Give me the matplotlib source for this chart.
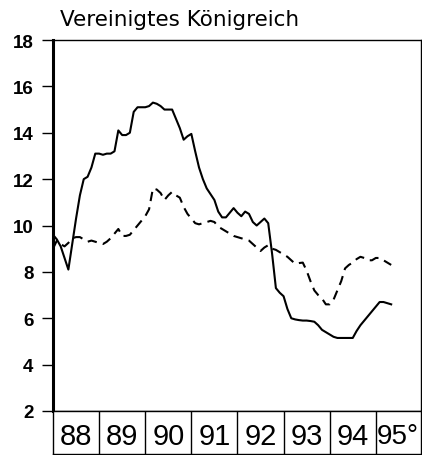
import matplotlib
matplotlib.use("Agg")
import matplotlib.pyplot as plt
import numpy as np

# monthly values, Jan 1988 .. May 1995
short_rate = [9.6, 9.4, 9.1, 8.6, 8.1, 9.2, 10.3, 11.3, 12.0, 12.1, 12.5, 13.1,
              13.1, 13.05, 13.1, 13.1, 13.2, 14.1, 13.9, 13.9, 14.0, 14.9, 15.1, 15.1,
              15.1, 15.15, 15.3, 15.25, 15.15, 15.0, 15.0, 15.0, 14.6, 14.2, 13.7, 13.85,
              13.95, 13.2, 12.5, 12.0, 11.6, 11.35, 11.1, 10.6, 10.35, 10.35, 10.55, 10.75,
              10.55, 10.4, 10.6, 10.5, 10.15, 10.0, 10.15, 10.3, 10.1, 8.8, 7.3, 7.1,
              6.95, 6.4, 6.0, 5.95, 5.92, 5.9, 5.9, 5.88, 5.85, 5.7, 5.5, 5.4,
              5.3, 5.2, 5.15, 5.15, 5.15, 5.15, 5.15, 5.45, 5.7, 5.9, 6.1, 6.3,
              6.5, 6.7, 6.7, 6.65, 6.6]
long_rate = [9.0, 9.35, 9.2, 9.1, 9.25, 9.45, 9.5, 9.5, 9.4, 9.3, 9.35, 9.3,
             9.25, 9.2, 9.3, 9.45, 9.65, 9.85, 9.55, 9.55, 9.6, 9.8, 10.0, 10.2,
             10.4, 10.7, 11.6, 11.55, 11.4, 11.1, 11.3, 11.45, 11.3, 11.2, 10.8, 10.5,
             10.3, 10.1, 10.05, 10.1, 10.15, 10.2, 10.15, 9.95, 9.85, 9.75, 9.65, 9.55,
             9.5, 9.45, 9.4, 9.35, 9.2, 9.05, 8.9, 9.05, 9.15, 9.0, 8.95, 8.85,
             8.75, 8.65, 8.5, 8.35, 8.38, 8.4, 8.05, 7.6, 7.2, 7.0, 6.85, 6.6,
             6.6, 6.8, 7.2, 7.6, 8.15, 8.3, 8.4, 8.55, 8.65, 8.6, 8.5, 8.5,
             8.6, 8.6, 8.5, 8.4, 8.3]
years = [1988, 1989, 1990, 1991, 1992, 1993, 1994, 1995]
year_labels = ["88", "89", "90", "91", "92", "93", "94", "95°"]
y_ticks = [2, 4, 6, 8, 10, 12, 14, 16, 18]

t = 1988 + np.arange(len(short_rate)) / 12.0
x_end = 1995.98

fig = plt.figure(figsize=(4.22, 4.56), dpi=100)
ax = fig.add_axes([53/422, 1 - 412/456, 368/422, 371/456])
ax.plot(t, short_rate, color="black", lw=1.5)
ax.plot(t, long_rate, color="black", lw=1.5, dashes=(4.5, 3))
ax.set_xlim(1988, x_end)
ax.set_ylim(2, 18)
ax.set_yticks(y_ticks)
ax.set_xticks([])
for lab in ax.set_yticklabels([str(v) for v in y_ticks]):
    lab.set_family(["Liberation Sans", "DejaVu Sans"])
    lab.set_fontweight("bold")
    lab.set_fontsize(13.5)
ax.tick_params(axis="y", length=8, width=1, pad=6)
ax.spines["left"].set_linewidth(2.2)
for s in ["top", "right", "bottom"]:
    ax.spines[s].set_linewidth(1)

fig.text(60/422, 1 - 20/456, "Vereinigtes Königreich",
         fontsize=15.5, ha="left", va="center", family="DejaVu Sans")

# year boxes under the plot
bx = fig.add_axes([53/422, 1 - 455/456, 368/422, 43/456])
bx.set_xlim(1988, x_end)
bx.set_ylim(0, 1)
bx.set_xticks([])
bx.set_yticks([])
for s in bx.spines.values():
    s.set_linewidth(1)
for i, y in enumerate(years):
    if i > 0:
        bx.axvline(y, color="black", lw=1)
    if i < len(years) - 1:
        bx.text(y + 0.5, 0.42, year_labels[i], ha="center", va="center",
                fontsize=21, family=["Liberation Sans", "DejaVu Sans"])
    else:
        bx.text(y + 0.03, 0.42, year_labels[i], ha="left", va="center",
                fontsize=20, family=["Liberation Sans", "DejaVu Sans"])

fig.savefig("out.png", dpi=100)
